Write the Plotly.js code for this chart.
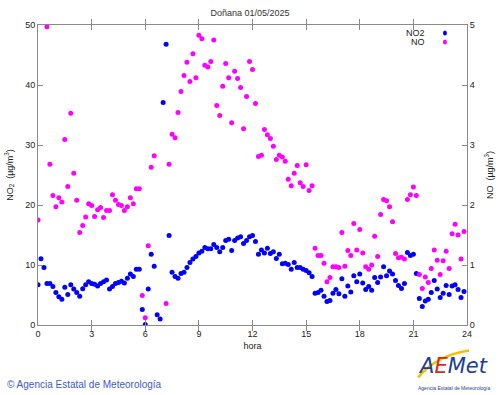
<!DOCTYPE html>
<html>
<head>
<meta charset="utf-8">
<script src="https://cdn.plot.ly/plotly-3.0.1.min.js"></script>
<style>html,body{margin:0;padding:0;background:#fff;}#chart{width:500px;height:395px;}</style>
</head>
<body>
<div id="chart"></div>
<script>
// 10-minute readings, hour of day
const steps = 144;
const hours = Array.from({length: steps}, (_, i) => i / 6);
const xTicks = [0, 3, 6, 9, 12, 15, 18, 21, 24];

// NO2 (µg/m3), left axis
const no2 = [
 6.7, 11.05, 9.6, 6.9, 6.9, 6.4, 5.4, 4.7, 4.3, 6.3, 5.1, 6.7,
 6.0, 5.4, 4.8, 6.05, 6.7, 7.2, 6.9, 6.8, 6.5, 6.9, 7.2, 7.5,
 6.0, 6.4, 6.9, 7.1, 7.3, 7.0, 7.8, 8.5, 8.1, 9.3, 9.3, 2.6,
 0.1, 6.0, 11.8, 9.8, 1.7, 1.0, 37.1, 46.8, 14.9, 8.8, 8.1, 7.8,
 8.6, 8.8, 9.6, 10.4, 11.0, 11.4, 12.0, 12.3, 12.9, 12.7, 12.7, 13.4,
 12.9, 12.2, 12.9, 14.1, 14.3, 12.4, 14.1, 14.5, 14.7, 13.6, 14.1, 14.7,
 14.9, 13.9, 11.8, 12.5, 12.0, 12.8, 11.9, 12.2, 11.1, 11.8, 10.2, 10.3,
 10.1, 9.3, 10.4, 9.6, 9.6, 9.3, 9.1, 8.7, 8.1, 5.3, 5.4, 5.8,
 4.8, 3.9, 4.1, 5.3, 5.9, 5.2, 7.7, 4.8, 6.5, 5.5, 8.2, 7.2,
 8.5, 7.0, 5.9, 6.4, 5.8, 7.9, 7.1, 8.0, 9.7, 8.2, 9.0, 8.5,
 7.4, 6.6, 6.1, 6.9, 12.1, 11.6, 11.8, 8.6, 4.4, 3.1, 4.0, 4.3,
 5.4, 7.4, 6.0, 4.6, 5.3, 6.6, 5.1, 6.5, 6.7, 5.9, 4.6, 5.6
];

// NO (µg/m3), right axis (null = not drawn / off scale)
const no = [
 1.75, null, null, 4.97, 2.68, 2.16, 1.97, 2.12, 2.05, 3.09, 2.31, 3.53,
 2.53, 2.08, 1.54, 1.66, 1.80, 2.02, 1.99, 1.81, 1.92, 1.96, 1.79, 1.91,
 1.91, 2.17, 2.08, 2.01, 1.99, 1.91, 1.97, 2.12, 2.02, 2.27, 2.27, 0.49,
 0.12, 1.32, 2.63, 2.82, null, null, null, 0.36, 2.68, 3.18, 3.12, 3.54,
 3.89, 4.16, 4.38, 4.06, 4.52, 4.12, 4.83, 4.77, 4.33, 4.30, 4.39, 4.75,
 3.66, 3.49, 3.98, 4.36, 4.12, 3.37, 4.23, 4.11, 3.96, 3.27, 3.81, 4.39,
 4.26, 3.69, 2.81, 2.83, 3.26, 3.17, 3.11, 2.98, 2.76, 2.83, 2.80, 2.73,
 2.43, 2.32, 2.53, 2.66, 2.37, 2.31, 2.67, 2.24, 2.32, 1.28, 1.16, 1.16,
 1.03, 0.72, 0.79, 0.97, 0.97, 0.96, 1.54, 0.98, 1.24, 1.16, 1.69, 1.25,
 1.59, 1.20, 0.97, 0.93, 1.00, 1.48, 1.14, 1.84, 2.09, 2.07, 1.97, 1.72,
 1.19, 1.12, 1.13, 1.10, 2.09, 2.17, 2.30, 2.16, 0.84, 0.61, 0.80, 0.71,
 0.94, 1.25, 1.08, 0.84, 1.07, 1.23, 0.94, 1.52, 1.68, 1.50, 1.10, 1.56
];

const seriesNames = ['NO2', 'NO'];
const blue = '#0000ff', magenta = '#ff00ff';
const axisGrey = '#8a8a8a';
const font = 'Liberation Sans, Arial, sans-serif';

const traces = [
  {x: hours, y: no2, name: seriesNames[0], type: 'scatter', mode: 'markers',
   marker: {color: blue, size: 5}, yaxis: 'y', cliponaxis: true},
  {x: hours, y: no, name: seriesNames[1], type: 'scatter', mode: 'markers',
   marker: {color: magenta, size: 5}, yaxis: 'y2', cliponaxis: true}
];

const commonAxis = {
  showgrid: false, zeroline: false, showline: true, linecolor: axisGrey, linewidth: 1,
  ticks: 'inside', ticklen: 5, tickcolor: axisGrey, tickwidth: 1,
  tickfont: {family: font, size: 9, color: '#222'}
};

const layout = {
  width: 500, height: 395,
  margin: {l: 38, r: 33, t: 25, b: 70},
  paper_bgcolor: '#fff', plot_bgcolor: '#fff',
  showlegend: false,
  title: {text: 'Doñana 01/05/2025', font: {family: font, size: 9, color: '#333'},
          x: 0.5, xanchor: 'center', y: 0.968, yanchor: 'middle'},
  xaxis: Object.assign({}, commonAxis, {
    range: [0, 24], tickvals: xTicks, ticktext: xTicks.map(String), mirror: 'allticks',
    title: {text: 'hora', font: {family: font, size: 9, color: '#222'}, standoff: 4}
  }),
  yaxis: Object.assign({}, commonAxis, {
    range: [0, 50], dtick: 10, mirror: false,
    title: {text: 'NO<sub>2</sub>  (µg/m<sup>3</sup>)', font: {family: font, size: 9, color: '#222'}, standoff: 10}
  }),
  yaxis2: Object.assign({}, commonAxis, {
    range: [0, 5], dtick: 1, overlaying: 'y', side: 'right', anchor: 'x',
    title: {text: 'NO  (µg/m<sup>3</sup>)', font: {family: font, size: 9, color: '#222'}, standoff: 12}
  }),
  shapes: [
    {type: 'circle', xref: 'paper', yref: 'paper', x0: 0.9440, x1: 0.9533, y0: 0.9650, y1: 0.9817,
     fillcolor: blue, line: {width: 0}},
    {type: 'circle', xref: 'paper', yref: 'paper', x0: 0.9440, x1: 0.9533, y0: 0.9350, y1: 0.9517,
     fillcolor: magenta, line: {width: 0}},
    // yellow swoosh of the logo
    {type: 'path', xref: 'paper', yref: 'paper',
     path: 'M 0.886 -0.175 Q 0.93 -0.10 1.005 -0.085', line: {color: '#f2c200', width: 2.5}}
  ],
  annotations: [
    {text: seriesNames[0], xref: 'paper', yref: 'paper', x: 0.907, y: 0.9733, xanchor: 'right', yanchor: 'middle',
     showarrow: false, font: {family: font, size: 9, color: '#222'}},
    {text: seriesNames[1], xref: 'paper', yref: 'paper', x: 0.907, y: 0.9433, xanchor: 'right', yanchor: 'middle',
     showarrow: false, font: {family: font, size: 9, color: '#222'}},
    {text: '© Agencia Estatal de Meteorología', xref: 'paper', yref: 'paper', x: -0.077, y: -0.197,
     xanchor: 'left', yanchor: 'middle', showarrow: false, font: {family: font, size: 10, color: '#3a5bd0'}},
    {text: "<i><span style='color:#1c3f94'>A</span><span style='color:#d62b1f'>E</span><span style='color:#1c3f94'>Met</span></i>",
     xref: 'paper', yref: 'paper', x: 0.968, y: -0.135, xanchor: 'center', yanchor: 'middle', showarrow: false,
     font: {family: 'DejaVu Sans, sans-serif', size: 21, color: '#1c3f94'}},
    {text: 'Agencia Estatal de Meteorología', xref: 'paper', yref: 'paper', x: 0.97, y: -0.21,
     xanchor: 'center', yanchor: 'middle', showarrow: false, font: {family: font, size: 5, color: '#1c3f94'}}
  ]
};

Plotly.newPlot('chart', traces, layout, {displayModeBar: false, staticPlot: true});
</script>
</body>
</html>
